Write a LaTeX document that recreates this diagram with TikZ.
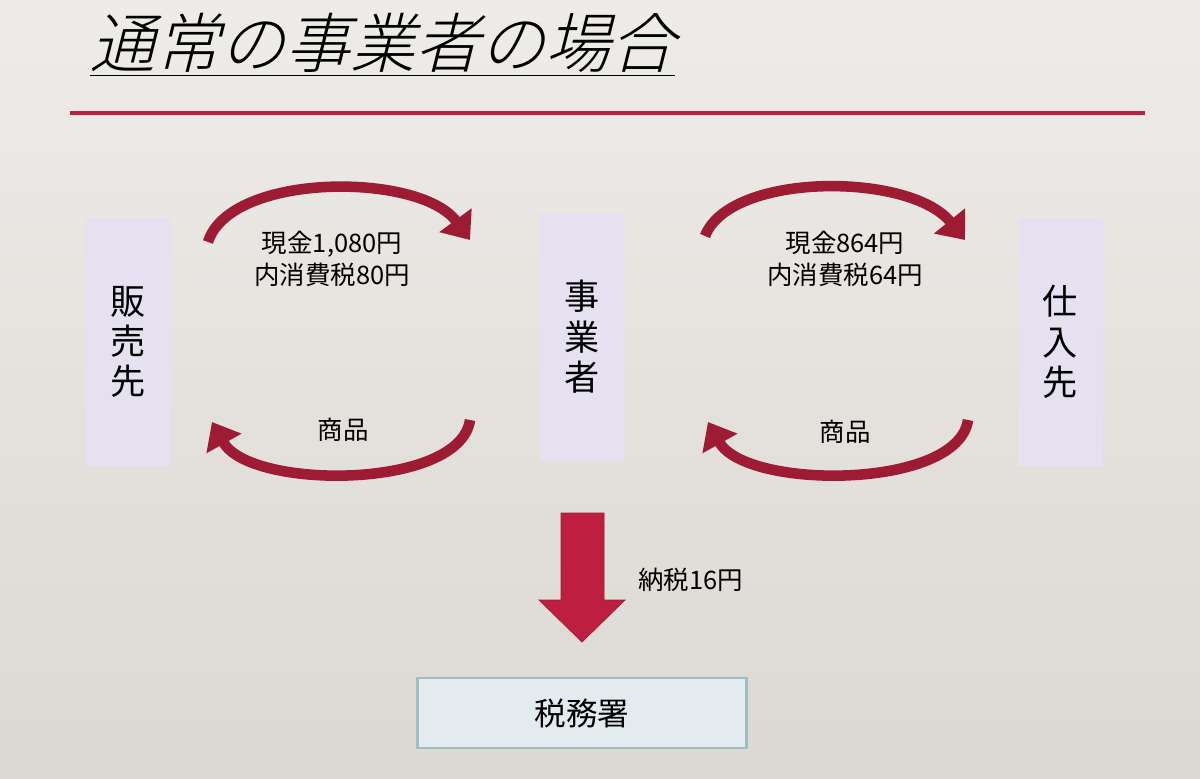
\documentclass[tikz,border=0pt]{standalone}
\usepackage{fontspec}
\newfontfamily\cjk{Noto Sans CJK JP}
\newfontfamily\cjktitle[FakeSlant=0.25]{Noto Sans CJK JP Light}
\usetikzlibrary{arrows.meta, positioning}
\definecolor{wine}{HTML}{9E1B34}
\definecolor{rubin}{HTML}{BE1E3F}
\definecolor{lav}{HTML}{E6E1F1}
\definecolor{pale}{HTML}{E4EBEE}
\definecolor{paleline}{HTML}{9CBFC3}
\definecolor{bgtop}{HTML}{EEECE9}
\definecolor{bgbot}{HTML}{DCD8D2}
\tikzset{>=Triangle}
\tikzset{
  party/.style={fill=lav, minimum width=1.7cm, minimum height=4.98cm, inner sep=0pt, font=\cjk\fontsize{20}{23}\selectfont, align=center},
  money/.style={font=\cjk\fontsize{14.5}{18}\selectfont, align=center},
  flow/.style={wine, line width=6pt, -{Triangle[length=14pt,width=22pt]}}
}
\begin{document}
\begin{tikzpicture}[x=0.02cm, y=-0.02cm]
\shade[top color=bgtop, bottom color=bgbot] (0,0) rectangle (1200,778);
\useasboundingbox (0,0) rectangle (1200,778);
% title
\node[anchor=west, font=\cjktitle\fontsize{37}{40}\selectfont] (title) at (84,45) {\underline{通常の事業者の場合}};
\draw[rubin, line width=2.2pt] (70,113) -- (1145,113);
% parties
\node[party] (sell) at (128,342) {販\\売\\先};
\node[party] (biz) at (582,337) {事\\業\\者};
\node[party] (buy) at (1060,342) {仕\\入\\先};
% curved flows
\coordinate (a1) at (208,242); \coordinate (a2) at (470,240);
\coordinate (b1) at (470,420); \coordinate (b2) at (212,422);
\coordinate (c1) at (705,236); \coordinate (c2) at (965,240);
\coordinate (d1) at (968,420); \coordinate (d2) at (708,422);
\draw[flow] (a1) .. controls (230,172) and (420,172) .. (a2);
\draw[flow] (b1) .. controls (460,490) and (250,490) .. (b2);
\draw[flow] (c1) .. controls (730,172) and (910,172) .. (c2);
\draw[flow] (d1) .. controls (958,490) and (746,490) .. (d2);
% labels
\node[money] (cash1) at (332,259) {現金1,080円\\内消費税80円};
\node[money] (goods1) at (343,430) {商品};
\node[money] (cash2) at (845,259) {現金864円\\内消費税64円};
\node[money] (goods2) at (845,432) {商品};
% tax
\coordinate (pay) at (582,513);
\fill[rubin, draw=wine] (561,513) -- (604,513) -- (604,600) -- (625,600) -- (582,642) -- (539,600) -- (561,600) -- cycle;
\node[money, anchor=west] (paylbl) at (632,580) {納税16円};
\node[fill=pale, draw=paleline, line width=1.2pt, minimum width=6.58cm, minimum height=1.4cm, font=\cjk\fontsize{18}{20}\selectfont] (office) at (582,713) {税務署};
\end{tikzpicture}
\end{document}
